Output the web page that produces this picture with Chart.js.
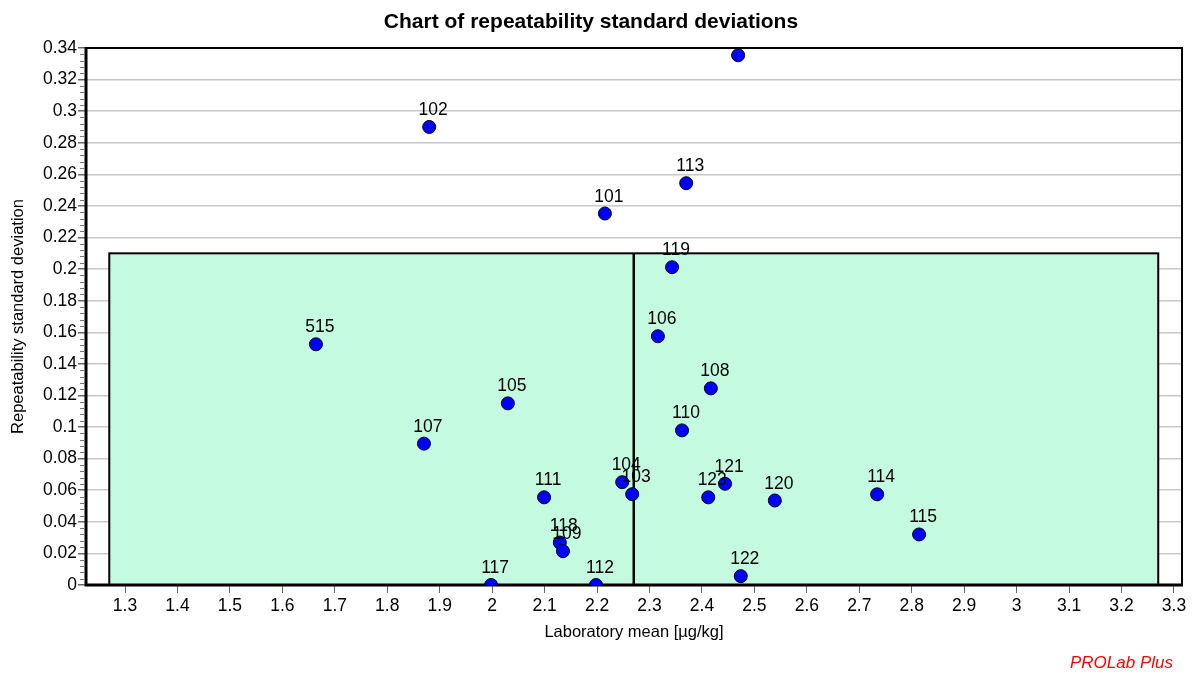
<!DOCTYPE html>
<html>
<head>
<meta charset="utf-8">
<title>Chart of repeatability standard deviations</title>
<script src="https://cdn.jsdelivr.net/npm/chart.js@4/dist/chart.umd.min.js"></script>
<style>
  html, body { margin: 0; padding: 0; background: #fff; }
  #chart { display: block; }
</style>
</head>
<body>
<canvas id="chart" width="1198" height="673"></canvas>
<script>
// lab codes, laboratory means and repeatability SDs
var labs = ['515', '102', '107', '105', '111', '118', '109', '117', '112', '104', '103', '101',
  '119', '113', '106', '108', '110', '123', '121', '120', '114', '115', '122', '116'];
var labMeans = [1.664, 1.880, 1.870, 2.030, 2.099, 2.129, 2.135, 1.998, 2.198, 2.248, 2.267, 2.215,
  2.343, 2.370, 2.316, 2.417, 2.362, 2.412, 2.444, 2.539, 2.734, 2.814, 2.474, 2.469];
var repSD = [0.1524, 0.290, 0.0895, 0.115, 0.0555, 0.0269, 0.0214, 0.0, 0.0, 0.0651, 0.0575, 0.2352,
  0.2012, 0.2544, 0.1575, 0.1245, 0.0979, 0.0555, 0.0641, 0.0535, 0.0574, 0.0320, 0.0056, 0.3354];

// tolerance box: mean range and SD limit, plus assigned value
var boxX = [1.27, 3.27];
var boxY = [0, 0.21];
var assignedValue = 2.27;

var xTicks = [1.3, 1.4, 1.5, 1.6, 1.7, 1.8, 1.9, 2, 2.1, 2.2, 2.3, 2.4, 2.5, 2.6, 2.7, 2.8, 2.9, 3, 3.1, 3.2, 3.3];
var yTicks = [0, 0.02, 0.04, 0.06, 0.08, 0.1, 0.12, 0.14, 0.16, 0.18, 0.2, 0.22, 0.24, 0.26, 0.28, 0.3, 0.32, 0.34];

var points = [];
labMeans.forEach(function (m, i) {
  points.push({ x: m, y: repSD[i], lab: labs[i] });
});

var FONT = 'Arial, "Liberation Sans", sans-serif';

// green box, assigned value line and frame, under the points
var boxPlugin = {
  id: 'boxPlugin',
  beforeDatasetsDraw: function (chart) {
    var ctx = chart.ctx;
    var xs = chart.scales.x, ys = chart.scales.y, a = chart.chartArea;
    var x0 = xs.getPixelForValue(boxX[0]), x1 = xs.getPixelForValue(boxX[1]);
    var y0 = ys.getPixelForValue(boxY[0]), y1 = ys.getPixelForValue(boxY[1]);
    ctx.save();
    ctx.fillStyle = '#c4fbe0';
    ctx.fillRect(x0, y1, x1 - x0, y0 - y1);
    ctx.strokeStyle = '#000';
    ctx.lineWidth = 2;
    ctx.strokeRect(x0, y1, x1 - x0, y0 - y1);
    var xv = xs.getPixelForValue(assignedValue);
    ctx.lineWidth = 2.5;
    ctx.beginPath();
    ctx.moveTo(xv, y0);
    ctx.lineTo(xv, y1);
    ctx.stroke();

    // minor ticks on the y axis
    ctx.strokeStyle = '#777';
    ctx.lineWidth = 1;
    for (var k = 1; k < 85; k++) {
      if (k % 5 === 0) continue;
      var py = Math.round(ys.getPixelForValue(k * 0.004)) + 0.5;
      ctx.beginPath();
      ctx.moveTo(a.left - 6, py);
      ctx.lineTo(a.left - 2, py);
      ctx.stroke();
    }

    // frame
    ctx.strokeStyle = '#000';
    ctx.lineWidth = 2;
    ctx.beginPath();
    ctx.moveTo(a.left, a.top);
    ctx.lineTo(a.right, a.top);
    ctx.lineTo(a.right, a.bottom);
    ctx.stroke();
    ctx.lineWidth = 3;
    ctx.beginPath();
    ctx.moveTo(a.left, a.top - 1);
    ctx.lineTo(a.left, a.bottom);
    ctx.lineTo(a.right + 1, a.bottom);
    ctx.stroke();
    ctx.restore();
  },
  afterDatasetsDraw: function (chart) {
    var ctx = chart.ctx, a = chart.chartArea;
    var meta = chart.getDatasetMeta(0);
    ctx.save();
    ctx.beginPath();
    ctx.rect(a.left, a.top, a.right - a.left, a.bottom - a.top);
    ctx.clip();
    ctx.fillStyle = '#000';
    ctx.font = '17.5px ' + FONT;
    ctx.textAlign = 'center';
    ctx.textBaseline = 'alphabetic';
    meta.data.forEach(function (el, i) {
      ctx.fillText(points[i].lab, el.x + 4, el.y - 12);
    });
    ctx.restore();

    ctx.save();
    ctx.fillStyle = '#ff0000';
    ctx.font = 'italic 17px ' + FONT;
    ctx.textAlign = 'right';
    ctx.textBaseline = 'alphabetic';
    ctx.fillText('PROLab Plus', 1173, 668);
    ctx.restore();
  }
};

var ctx = document.getElementById('chart').getContext('2d');
var chart = new Chart(ctx, {
  type: 'scatter',
  data: {
    datasets: [{
      data: points,
      backgroundColor: '#0000ff',
      borderColor: '#000',
      borderWidth: 1,
      pointRadius: 6.5,
      pointHoverRadius: 6.5,
      clip: 0
    }]
  },
  options: {
    responsive: false,
    animation: false,
    events: [],
    layout: {
      padding: { left: 0, right: 16, top: 0, bottom: 0 }
    },
    plugins: {
      legend: { display: false },
      tooltip: { enabled: false },
      title: {
        display: true,
        text: 'Chart of repeatability standard deviations',
        color: '#000',
        font: { family: FONT, size: 21, weight: 'bold' },
        padding: { top: 10, bottom: 12.8 }
      }
    },
    scales: {
      x: {
        type: 'linear',
        min: 1.2256,
        max: 3.3153,
        afterBuildTicks: function (scale) {
          scale.ticks = xTicks.map(function (v) { return { value: v }; });
        },
        afterFit: function (scale) {
          scale.height = 673 - 585;
        },
        ticks: {
          color: '#000',
          padding: 3,
          maxRotation: 0,
          autoSkip: false,
          font: { family: FONT, size: 17.5 },
          callback: function (v) { return String(+v.toFixed(1)); }
        },
        grid: {
          drawOnChartArea: false,
          drawTicks: true,
          tickLength: 8,
          tickColor: '#666'
        },
        border: { display: false },
        title: {
          display: true,
          text: 'Laboratory mean [\u00b5g/kg]',
          color: '#000',
          font: { family: FONT, size: 16.5 },
          padding: { top: 0, bottom: 31 }
        }
      },
      y: {
        type: 'linear',
        min: 0,
        max: 0.34,
        afterBuildTicks: function (scale) {
          scale.ticks = yTicks.map(function (v) { return { value: v }; });
        },
        afterFit: function (scale) {
          scale.width = 86;
        },
        ticks: {
          color: '#000',
          padding: 1,
          autoSkip: false,
          font: { family: FONT, size: 17.5 },
          callback: function (v) { return String(+v.toFixed(2)); }
        },
        grid: {
          color: '#c8c8c8',
          lineWidth: 1.5,
          drawTicks: true,
          tickLength: 8,
          tickColor: '#666'
        },
        border: { display: false },
        title: {
          display: true,
          text: 'Repeatability standard deviation',
          color: '#000',
          font: { family: FONT, size: 16.5 },
          padding: { top: 8.5, bottom: 0 }
        }
      }
    }
  },
  plugins: [boxPlugin]
});
</script>
</body>
</html>
